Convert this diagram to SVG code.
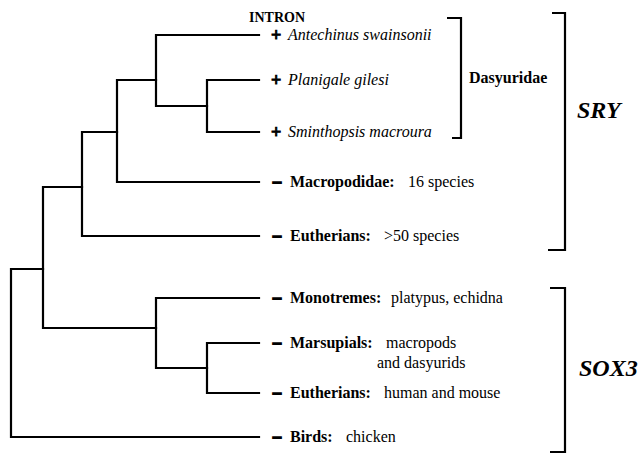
<svg xmlns="http://www.w3.org/2000/svg" width="641" height="455" viewBox="0 0 641 455">
<style>
text{font-family:"Liberation Serif","Times New Roman",serif;fill:#000}
.b{font-weight:bold;font-size:16px}
.r{font-size:16px}
.i{font-style:italic;font-size:16px}
.bi{font-weight:bold;font-style:italic;font-size:24px}
.sg{font-weight:bold;font-size:18px;stroke:#000;stroke-width:0.9}
.mn{font-weight:bold;font-size:16px;stroke:#000;stroke-width:1.6}
.ln{fill:none;stroke:#000;stroke-width:2.2;stroke-linecap:square}
.br{fill:none;stroke:#000;stroke-width:2.2}
</style>
<rect width="641" height="455" fill="#fff"/>
<g id="connectors" class="ln">
<path d="M11,269V437M11,269H43M11,437H259"/>
<path d="M43,187V328M43,187H82M43,328H156"/>
<path d="M82,132V236M82,132H117M82,236H259"/>
<path d="M117,80V182M117,80H156M117,182H259"/>
<path d="M156,35V106M156,35H259M156,106H207"/>
<path d="M207,80V132M207,80H259M207,132H259"/>
<path d="M156,298V368M156,298H259M156,368H207"/>
<path d="M207,343V393M207,343H259M207,393H259"/>
</g>
<g id="intron"><text x="249" y="22" font-weight="bold" font-size="14">INTRON</text></g>
<g id="antechinus"><text x="271" y="41" class="sg">+</text><text x="288" y="40" class="i">Antechinus swainsonii</text></g>
<g id="planigale"><text x="271" y="86" class="sg">+</text><text x="288" y="85" class="i">Planigale gilesi</text></g>
<g id="sminthopsis"><text x="271" y="138" class="sg">+</text><text x="288" y="137" class="i">Sminthopsis macroura</text></g>
<g id="macropodidae"><text x="273" y="187" class="mn">–</text><text x="290" y="187" class="b">Macropodidae:</text><text x="408" y="187" class="r">16 species</text></g>
<g id="eutherians-sry"><text x="273" y="241" class="mn">–</text><text x="290" y="241" class="b">Eutherians:</text><text x="384" y="241" class="r">&gt;50 species</text></g>
<g id="monotremes"><text x="273" y="303" class="mn">–</text><text x="290" y="303" class="b">Monotremes:</text><text x="391" y="303" class="r">platypus, echidna</text></g>
<g id="marsupials"><text x="273" y="348" class="mn">–</text><text x="290" y="348" class="b">Marsupials:</text><text x="386" y="348" class="r">macropods</text><text x="377" y="368" class="r">and dasyurids</text></g>
<g id="eutherians-sox3"><text x="273" y="398" class="mn">–</text><text x="290" y="398" class="b">Eutherians:</text><text x="384" y="398" class="r">human and mouse</text></g>
<g id="birds"><text x="273" y="442" class="mn">–</text><text x="290" y="442" class="b">Birds:</text><text x="346" y="442" class="r">chicken</text></g>
<g id="dasyuridae"><path class="br" d="M447,18H461V138H452"/><text x="469" y="83" class="b">Dasyuridae</text></g>
<g id="sry"><path class="br" d="M552,13H565V250H548"/><text x="577" y="118" class="bi">SRY</text></g>
<g id="sox3"><path class="br" d="M550,288H565V452H550"/><text x="579" y="376" class="bi">SOX3</text></g>
</svg>
